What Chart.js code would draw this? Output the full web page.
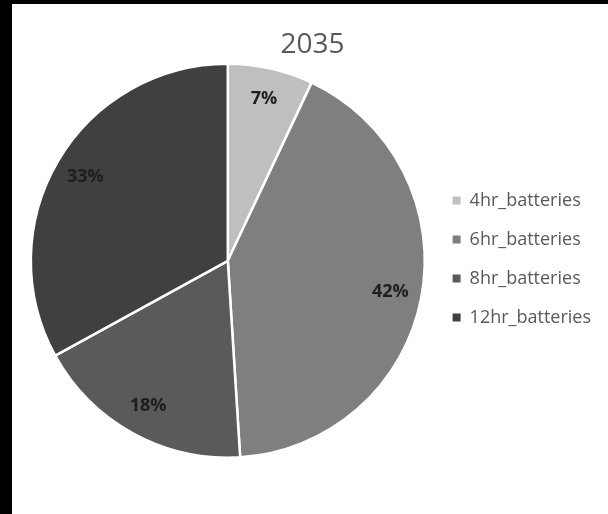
<!DOCTYPE html>
<html>
<head>
<meta charset="utf-8">
<script src="https://cdn.jsdelivr.net/npm/chart.js@4"></script>
<style>
    html, body { margin: 0; padding: 0; background: #000; }
    #panel { position: absolute; left: 12px; top: 4px; width: 596px; height: 510px; background: #fff; }
</style>
</head>
<body>
<div id="panel"><canvas id="batteryMixChart" width="596" height="510"></canvas></div>
<script>
const chartTitle = '2035';
const batteryTypes = ['4hr_batteries', '6hr_batteries', '8hr_batteries', '12hr_batteries'];
const sharePercent = [7, 42, 18, 33];
const sliceColors = ['#bfbfbf', '#7f7f7f', '#5a5a5a', '#404040'];

// writes the percentage inside each slice
const sliceLabels = {
    id: 'sliceLabels',
    afterDatasetsDraw(chart) {
        const ctx = chart.ctx;
        const meta = chart.getDatasetMeta(0);
        ctx.save();
        ctx.font = 'bold 18px "Open Sans"';
        ctx.fillStyle = '#1e1e1e';
        ctx.textAlign = 'center';
        ctx.textBaseline = 'middle';
        meta.data.forEach((arc, i) => {
            const p = arc.getProps(['x', 'y', 'startAngle', 'endAngle', 'outerRadius'], true);
            const mid = (p.startAngle + p.endAngle) / 2;
            const r = p.outerRadius * 0.84;
            ctx.fillText(sharePercent[i] + '%', p.x + Math.cos(mid) * r, p.y + Math.sin(mid) * r);
        });
        ctx.restore();
    }
};

const batteryMixCtx = document.getElementById('batteryMixChart').getContext('2d');

const batteryMixChart = new Chart(batteryMixCtx, {
    type: 'pie',
    data: {
        labels: batteryTypes,
        datasets: [{
            data: sharePercent,
            backgroundColor: sliceColors,
            borderColor: '#ffffff',
            borderWidth: 2.5
        }]
    },
    options: {
        responsive: false,
        animation: false,
        layout: { padding: { left: 12, right: 7, top: 0, bottom: 55 } },
        plugins: {
            title: {
                display: true,
                text: chartTitle,
                color: '#595959',
                font: { family: '"Open Sans"', size: 28, weight: 'normal' },
                padding: { top: 24, bottom: 1 }
            },
            legend: {
                position: 'right',
                // empty title only pushes the entries down
                title: { display: true, text: '', font: { size: 16 }, padding: { top: 0, bottom: 36 } },
                labels: {
                    boxWidth: 8,
                    boxHeight: 8,
                    padding: 21,
                    color: '#595959',
                    font: { family: '"Open Sans"', size: 18 },
                    generateLabels(chart) {
                        const items = Chart.overrides.pie.plugins.legend.labels.generateLabels(chart);
                        items.forEach(item => { item.lineWidth = 0; });
                        return items;
                    }
                }
            },
            tooltip: { enabled: false }
        }
    },
    plugins: [sliceLabels]
});
</script>
</body>
</html>
